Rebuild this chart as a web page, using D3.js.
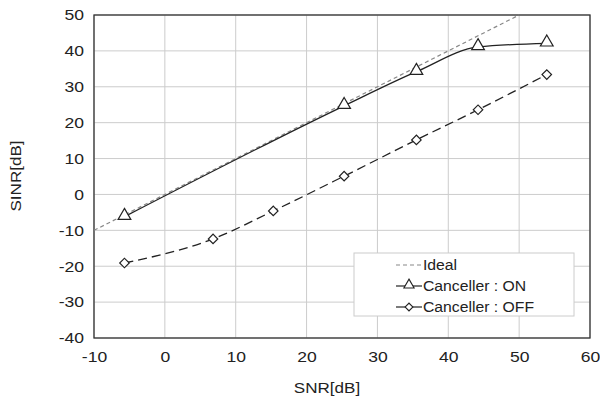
<!DOCTYPE html>
<html>
<head>
<meta charset="utf-8">
<script src="https://cdn.jsdelivr.net/npm/d3@7"></script>
<style>
  body { margin: 0; background: #fff; }
  svg text { font-family: "Liberation Sans", Arial, Helvetica, sans-serif; fill: #222; }
</style>
</head>
<body>
<div id="chart"></div>
<script>
const svgWidth = 600
const svgHeight = 401
let margin = { top: 15, right: 10, bottom: 63, left: 94 }
let width = 590 - margin.left
let height = 338 - margin.top
// the original text is drawn a bit wider than Arial
const stretch = 1.17

// data
const xTicks = [-10, 0, 10, 20, 30, 40, 50, 60]
const yTicks = [-40, -30, -20, -10, 0, 10, 20, 30, 40, 50]
const idealX = [-10, 50]
const idealY = [-10, 50]
const onX = [-5.7, 25.3, 35.5, 44.2, 53.9]
const onY = [-6.2, 24.7, 34.2, 41.1, 42.1]
const offX = [-5.7, 6.8, 15.3, 25.3, 35.5, 44.2, 53.9]
const offY = [-19.1, -12.4, -4.6, 5.1, 15.2, 23.6, 33.4]

let svg = d3.select("#chart")
  .append("svg")
  .attr("width", svgWidth)
  .attr("height", svgHeight)
let chartGroup = svg.append("g")
  .attr("transform", `translate(${margin.left}, ${margin.top})`)

let x = d3.scaleLinear().domain([-10, 60]).range([0, width])
let y = d3.scaleLinear().domain([-40, 50]).range([height, 0])

// grid
chartGroup.append("g")
  .selectAll("line")
  .data(xTicks)
  .enter()
  .append("line")
  .attr("x1", d => x(d)).attr("x2", d => x(d))
  .attr("y1", 0).attr("y2", height)
  .attr("stroke", "#ccc")
chartGroup.append("g")
  .selectAll("line")
  .data(yTicks)
  .enter()
  .append("line")
  .attr("y1", d => y(d)).attr("y2", d => y(d))
  .attr("x1", 0).attr("x2", width)
  .attr("stroke", "#ccc")

chartGroup.append("rect")
  .attr("width", width).attr("height", height)
  .attr("fill", "none").attr("stroke", "#333").attr("stroke-width", 1.3)

let fmt = d => String(d)
let bottomAxis = d3.axisBottom(x).tickValues(xTicks).tickFormat(fmt).tickSize(0).tickPadding(13)
let leftAxis = d3.axisLeft(y).tickValues(yTicks).tickFormat(fmt).tickSize(0).tickPadding(10)
let xAxis = chartGroup.append("g")
  .attr("transform", `translate(0, ${height})`)
  .call(bottomAxis)
let yAxis = chartGroup.append("g").call(leftAxis)
xAxis.select(".domain").remove()
yAxis.select(".domain").remove()
xAxis.attr("font-family", null).attr("font-size", null)
yAxis.attr("font-family", null).attr("font-size", null)
chartGroup.selectAll(".tick text")
  .style("font-size", "15px")
  .attr("fill", "#222")
  .attr("transform", `scale(${stretch}, 1)`)
yAxis.selectAll(".tick text").attr("x", -10 / stretch)

// lines
let line = d3.line().x(d => x(d[0])).y(d => y(d[1]))
let smooth = d3.line().x(d => x(d[0])).y(d => y(d[1])).curve(d3.curveMonotoneX)
let ideal = idealX.map((v, i) => [v, idealY[i]])
let on = onX.map((v, i) => [v, onY[i]])
let off = offX.map((v, i) => [v, offY[i]])

chartGroup.append("path")
  .attr("d", line(ideal))
  .attr("fill", "none").attr("stroke", "#888").attr("stroke-width", 1.2)
  .attr("stroke-dasharray", "4,3")
chartGroup.append("path")
  .attr("d", smooth(on))
  .attr("fill", "none").attr("stroke", "#222").attr("stroke-width", 1.3)
chartGroup.append("path")
  .attr("d", smooth(off))
  .attr("fill", "none").attr("stroke", "#222").attr("stroke-width", 1.3)
  .attr("stroke-dasharray", "9,5")

let triangle = d3.symbol().type(d3.symbolTriangle).size(70)
let diamond = d3.symbol().type(d3.symbolSquare).size(45)

chartGroup.selectAll(".on-mark")
  .data(on)
  .enter()
  .append("path")
  .attr("d", triangle)
  .attr("transform", d => `translate(${x(d[0])}, ${y(d[1]) - 1})`)
  .attr("fill", "#fff").attr("stroke", "#222").attr("stroke-width", 1.2)
chartGroup.selectAll(".off-mark")
  .data(off)
  .enter()
  .append("path")
  .attr("d", diamond)
  .attr("transform", d => `translate(${x(d[0])}, ${y(d[1])}) rotate(45)`)
  .attr("fill", "#fff").attr("stroke", "#222").attr("stroke-width", 1.2)

// axis titles
svg.append("text")
  .attr("transform", `translate(327, 393) scale(${stretch + 0.05}, 1)`)
  .attr("text-anchor", "middle")
  .style("font-size", "14px")
  .text("SNR[dB]")
svg.append("text")
  .attr("transform", `translate(21, 176) rotate(-90) scale(${stretch + 0.05}, 1)`)
  .attr("text-anchor", "middle")
  .style("font-size", "14px")
  .text("SINR[dB]")

// legend
let legend = svg.append("g").attr("transform", "translate(354, 253)")
legend.append("rect")
  .attr("width", 220).attr("height", 63)
  .attr("fill", "#fff").attr("stroke", "#ccc")
let entries = ["Ideal", "Canceller : ON", "Canceller : OFF"]
entries.forEach((name, i) => {
  let ly = 12 + i * 21
  let g = legend.append("g").attr("transform", `translate(0, ${ly})`)
  g.append("line")
    .attr("x1", 42).attr("x2", 68)
    .attr("stroke", i === 0 ? "#888" : "#222")
    .attr("stroke-width", 1.2)
    .attr("stroke-dasharray", i === 0 ? "4,3" : null)
  if (i === 1) {
    g.append("path").attr("d", d3.symbol().type(d3.symbolTriangle).size(45))
      .attr("transform", "translate(55, -1)")
      .attr("fill", "#fff").attr("stroke", "#222").attr("stroke-width", 1.1)
  }
  if (i === 2) {
    g.append("path").attr("d", d3.symbol().type(d3.symbolSquare).size(30))
      .attr("transform", "translate(55, 0) rotate(45)")
      .attr("fill", "#fff").attr("stroke", "#222").attr("stroke-width", 1.1)
  }
  g.append("text")
    .attr("transform", "translate(69, 5) scale(1.05, 1)")
    .style("font-size", "15px")
    .text(name)
})
</script>
</body>
</html>
